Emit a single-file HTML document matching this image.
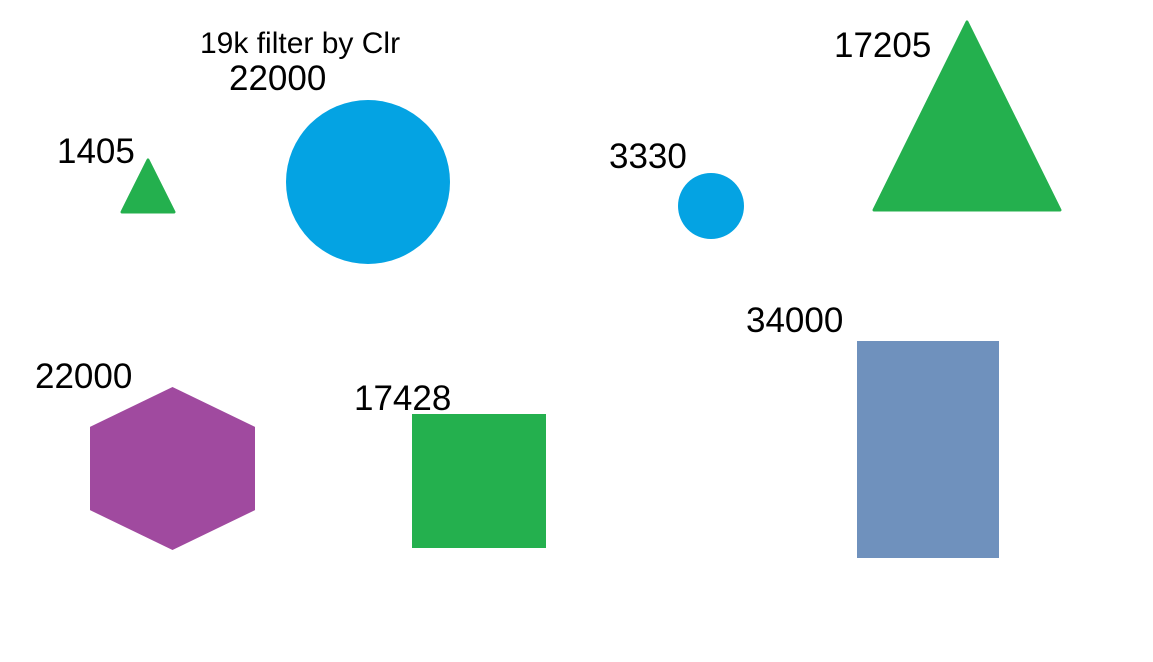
<!DOCTYPE html>
<html><head><meta charset="utf-8"><style>
html,body{margin:0;padding:0;background:#fff;}
svg{display:block;}
text{font-family:"Liberation Sans",sans-serif;fill:#000;}
</style></head><body>
<svg id="chart" width="1153" height="662" viewBox="0 0 1153 662">
<text x="200" y="53" font-size="30">19k filter by Clr</text>
</svg>
<script>
const labels = ["1405","22000","3330","17205","22000","17428","34000"];
const values = [1405,22000,3330,17205,22000,17428,34000];
const shapes = ["triangle","circle","circle","triangle","hexagon","square","rect"];
const colors = ["#24b04e","#04a3e3","#04a3e3","#24b04e","#a04a9f","#24b04e","#6f91bd"];
// layout (not data): anchor boxes for each mark
const layout = [
 {x:122,y:160,w:52,h:52,lx:57,ly:163},
 {x:286,y:100,w:164,h:164,lx:229,ly:90},
 {x:678,y:173,w:66,h:66,lx:609,ly:168},
 {x:874,y:22,w:186,h:188,lx:834,ly:57},
 {x:90,y:387,w:165,h:163,lx:35,ly:388},
 {x:412,y:414,w:134,h:134,lx:354,ly:410},
 {x:857,y:341,w:142,h:217,lx:746,ly:332}
];
const svg=document.getElementById('chart');
const NS="http://www.w3.org/2000/svg";
labels.forEach((lab,i)=>{
  const b=layout[i];let el;
  if(shapes[i]==="circle"){
    el=document.createElementNS(NS,"circle");
    el.setAttribute("cx",b.x+b.w/2);el.setAttribute("cy",b.y+b.h/2);el.setAttribute("r",b.w/2);
  }else if(shapes[i]==="triangle"){
    el=document.createElementNS(NS,"polygon");
    el.setAttribute("points",`${b.x+b.w/2},${b.y} ${b.x+b.w},${b.y+b.h} ${b.x},${b.y+b.h}`);
    el.setAttribute("stroke",colors[i]);el.setAttribute("stroke-linejoin","round");el.setAttribute("stroke-width","3");
  }else if(shapes[i]==="hexagon"){
    el=document.createElementNS(NS,"polygon");
    const cx=b.x+b.w/2;
    el.setAttribute("points",`${cx},${b.y} ${b.x+b.w},${b.y+b.h*0.245} ${b.x+b.w},${b.y+b.h*0.755} ${cx},${b.y+b.h} ${b.x},${b.y+b.h*0.755} ${b.x},${b.y+b.h*0.245}`);
  }else{
    el=document.createElementNS(NS,"rect");
    el.setAttribute("x",b.x);el.setAttribute("y",b.y);el.setAttribute("width",b.w);el.setAttribute("height",b.h);
  }
  el.setAttribute("fill",colors[i]);
  
  
  svg.appendChild(el);
  const t=document.createElementNS(NS,"text");
  t.setAttribute("x",b.lx);t.setAttribute("y",b.ly);t.setAttribute("font-size","35");
  t.textContent=lab;
  
  
  svg.appendChild(t);
});
</script>
</body></html>
